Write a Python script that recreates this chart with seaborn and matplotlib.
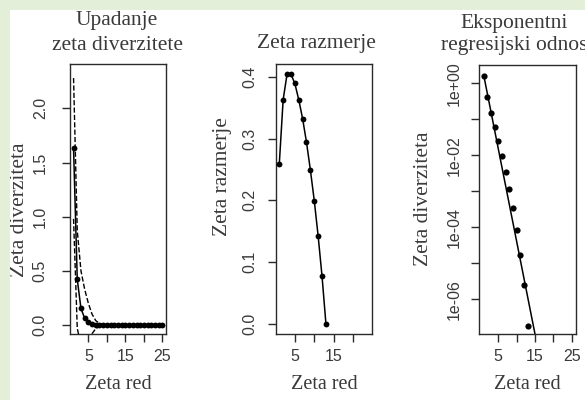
import matplotlib
matplotlib.use("Agg")
import matplotlib.pyplot as plt
import seaborn as sns
import pandas as pd
from matplotlib.patches import Rectangle
from matplotlib.ticker import FixedLocator, FixedFormatter, NullLocator

# ---------------- data ----------------
orders = [1, 2, 3, 4, 5, 6, 7, 8, 9, 10, 11, 12, 13, 14, 15, 16, 17, 18, 19, 20,
          21, 22, 23, 24, 25]
zeta_mean = [1.63, 0.421, 0.153, 0.0618, 0.025, 0.00971, 0.00352, 0.00117,
             3.44e-4, 8.57e-5, 1.71e-5, 2.43e-6, 1.87e-7, 0.0, 0.0, 0.0, 0.0,
             0.0, 0.0, 0.0, 0.0, 0.0, 0.0, 0.0, 0.0]
zeta_upper = [2.28, 0.87, 0.50, 0.33, 0.20, 0.10, 0.04, 0.015, 0.005, 0.002,
              0.0005, 0.0001, 0.0, 0.0, 0.0, 0.0, 0.0, 0.0, 0.0, 0.0, 0.0, 0.0,
              0.0, 0.0, 0.0]
zeta_lower = [0.98, -0.03, -0.19, -0.21, -0.15, -0.08, -0.033, -0.013, -0.004,
              -0.002, -0.0005, -0.0001, 0.0, 0.0, 0.0, 0.0, 0.0, 0.0, 0.0, 0.0,
              0.0, 0.0, 0.0, 0.0, 0.0]

ratio_orders = [1, 2, 3, 4, 5, 6, 7, 8, 9, 10, 11, 12, 13]
zeta_ratio = [0.2585, 0.363, 0.404, 0.404, 0.389, 0.363, 0.332, 0.294, 0.249,
              0.1995, 0.142, 0.077, 0.0]

log_orders = [1, 2, 3, 4, 5, 6, 7, 8, 9, 10, 11, 12, 13]
log_values = [1.63, 0.421, 0.153, 0.0618, 0.025, 0.00971, 0.00352, 0.00117,
              3.44e-4, 8.57e-5, 1.71e-5, 2.43e-6, 1.87e-7]
fit_orders = [1, 25]
fit_values = [1.72, 8e-13]

titles = ["Upadanje\nzeta diverzitete", "Zeta razmerje",
          "Eksponentni\nregresijski odnos"]
ylabels = ["Zeta diverziteta", "Zeta razmerje", "Zeta diverziteta"]
xlabel = "Zeta red"

# ---------------- style ----------------
sns.set_theme(style="ticks")
plt.rcParams["font.family"] = ["Liberation Sans", "DejaVu Sans"]
TXT = "#3a3a3a"
SERIF = ["Liberation Serif", "DejaVu Serif"]

W, H = 585, 400
fig = plt.figure(figsize=(W / 100, H / 100), dpi=100, facecolor="white")

# light green frame strips (left and top)
green = "#e3efd9"
fig.patches.append(Rectangle((0, 0), 10 / W, 1, transform=fig.transFigure,
                             facecolor=green, edgecolor="none", zorder=0))
fig.patches.append(Rectangle((0, 1 - 10 / H), 1, 10 / H, transform=fig.transFigure,
                             facecolor=green, edgecolor="none", zorder=0))


def px_axes(left, right, top, bottom):
    return fig.add_axes([left / W, 1 - bottom / H, (right - left) / W,
                         (bottom - top) / H])


ax1 = px_axes(70, 166, 64, 334)
ax2 = px_axes(275.7, 372.3, 64.3, 334)
ax3 = px_axes(478.7, 576, 65, 333.5)

df1 = pd.DataFrame({"order": orders, "mean": zeta_mean,
                    "upper": zeta_upper, "lower": zeta_lower})
df2 = pd.DataFrame({"order": ratio_orders, "ratio": zeta_ratio})
df3 = pd.DataFrame({"order": log_orders, "value": log_values})
dfit = pd.DataFrame({"order": fit_orders, "value": fit_values})

# Panel 1
sns.lineplot(data=df1, x="order", y="mean", ax=ax1, color="black", lw=1.1,
             marker="o", markersize=4.2, markeredgewidth=0, zorder=3)
sns.lineplot(data=df1, x="order", y="upper", ax=ax1, color="black", lw=1.0,
             dashes=(4, 3), linestyle="--", zorder=2)
sns.lineplot(data=df1, x="order", y="lower", ax=ax1, color="black", lw=1.0,
             dashes=(4, 3), linestyle="--", zorder=2)
ax1.set_xlim(0.04, 25.96)
ax1.set_ylim(-0.083, 2.41)
ax1.yaxis.set_major_locator(FixedLocator([0.0, 0.5, 1.0, 1.5, 2.0]))
ax1.yaxis.set_major_formatter(FixedFormatter(["0.0", "0.5", "1.0", "1.5", "2.0"]))
ax1.xaxis.set_major_locator(FixedLocator([5, 10, 15, 20, 25]))
ax1.xaxis.set_major_formatter(FixedFormatter(["5", "", "15", "", "25"]))

# Panel 2
sns.lineplot(data=df2, x="order", y="ratio", ax=ax2, color="black", lw=1.1,
             marker="o", markersize=4.2, markeredgewidth=0, zorder=3)
ax2.set_xlim(0.08, 24.92)
ax2.set_ylim(-0.016, 0.42)
ax2.yaxis.set_major_locator(FixedLocator([0.0, 0.1, 0.2, 0.3, 0.4]))
ax2.yaxis.set_major_formatter(FixedFormatter(["0.0", "0.1", "0.2", "0.3", "0.4"]))
ax2.xaxis.set_major_locator(FixedLocator([5, 10, 15, 20]))
ax2.xaxis.set_major_formatter(FixedFormatter(["5", "", "15", ""]))

# Panel 3
ax3.set_yscale("log")
sns.scatterplot(data=df3, x="order", y="value", ax=ax3, color="black", s=20,
                linewidth=0, zorder=3)
sns.lineplot(data=dfit, x="order", y="value", ax=ax3, color="black", lw=1.1,
             zorder=2)
ax3.set_xlim(-0.35, 26.2)
ax3.set_ylim(10 ** -6.95, 10 ** 0.51)
ax3.yaxis.set_major_locator(FixedLocator([1, 1e-1, 1e-2, 1e-3, 1e-4, 1e-5, 1e-6]))
ax3.yaxis.set_major_formatter(FixedFormatter(["1e+00", "", "1e-02", "", "1e-04",
                                              "", "1e-06"]))
ax3.yaxis.set_minor_locator(NullLocator())
ax3.xaxis.set_major_locator(FixedLocator([5, 10, 15, 20, 25]))
ax3.xaxis.set_major_formatter(FixedFormatter(["5", "", "15", "", "25"]))

ylab_x = [20, 222, 423]
ylab_y = [210, 177, 199]
ypads = [10, 7.3, 6]
title_cx = [117, 316.5, 514]
title_lines = [[("Upadanje", 25), ("zeta diverzitete", 50)],
               [("Zeta razmerje", 48)],
               [("Eksponentni", 28), ("regresijski odnos", 50)]]
for ax, ylab, yx, yy, yp, tcx, tl in zip([ax1, ax2, ax3], ylabels, ylab_x,
                                         ylab_y, ypads, title_cx, title_lines):
    for s in ax.spines.values():
        s.set_visible(True)
        s.set_color("#2a2a2a")
        s.set_linewidth(1.0)
    ax.tick_params(axis="both", length=6, width=1.0, color="#2a2a2a",
                   labelsize=11.5, labelcolor=TXT)
    ax.tick_params(axis="x", pad=5)
    ax.tick_params(axis="y", pad=yp)
    for lab in ax.get_yticklabels():
        lab.set_rotation(90)
        lab.set_va("center")
    ax.set_xlabel(xlabel, fontsize=14.5, family=SERIF, color=TXT)
    ax.set_ylabel(ylab, fontsize=15.5, family=SERIF, color=TXT)
    pos = ax.get_position()
    left_px = pos.x0 * W
    width_px = pos.width * W
    bottom_px = (1 - pos.y0) * H
    height_px = pos.height * H
    ax.yaxis.set_label_coords((yx - left_px) / width_px,
                              (bottom_px - yy) / height_px)
    ax.yaxis.label.set_va("center")
    ax.xaxis.set_label_coords(0.5, (bottom_px - 389) / height_px)
    ax.xaxis.label.set_va("baseline")
    for text, base in tl:
        fig.text(tcx / W, 1 - base / H, text, ha="center", va="baseline",
                 fontsize=15.5, family=SERIF, color=TXT)
    ax.set_facecolor("white")

fig.savefig("out.png", dpi=100, facecolor="white")
